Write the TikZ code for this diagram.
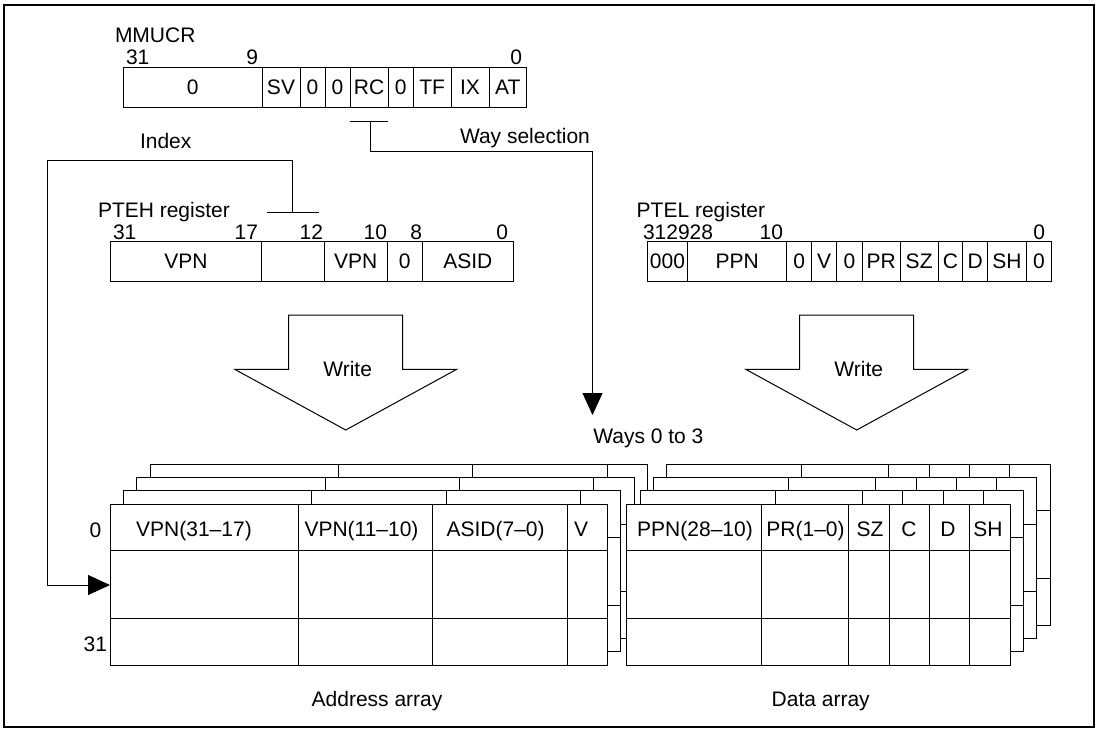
\documentclass[tikz,border=0pt]{standalone}
\usepackage{fontspec}
\setmainfont{Liberation Sans}
\usetikzlibrary{arrows.meta}

\begin{document}
\begin{tikzpicture}[
x=1pt, y=-1pt,
line width=1pt,
font=\fontsize{21}{25}\selectfont,
field/.style={draw, inner sep=0pt, outer sep=0pt, minimum height=40pt},
txt/.style={inner sep=0pt, outer sep=0pt},
tip/.style={-{Triangle[length=22pt,width=20pt]}},
layer/.style={draw, fill=white},
writearrow/.style={draw, fill=white}
]
\useasboundingbox (0,0) rectangle (1102,729);
\draw[line width=2pt] (3.5,5) rectangle (1094,727);

% MMUCR
\node[txt, anchor=base west] (mmucr) at (115,42) {MMUCR};
\foreach \l/\r/\t [count=\i] in {123.3/262/0, 262/300/SV, 300/325/0, 325/350/0, 350/388.3/RC,
  388.3/413.3/0, 413.3/451/TF, 451/489/IX, 489/526.7/AT} {
  \pgfmathsetmacro\fw{\r-\l}
  \node[field, minimum width=\fw pt] (mm\i) at ({(\l+\r)/2},87.3) {\t};
}
\foreach \x/\a/\t [count=\i] in {126/west/31, 258/east/9, 522/east/0}
  \node[txt, anchor=base \a] (mmbit\i) at (\x,64) {\t};

% PTEH
\node[txt, anchor=base west] (ptehname) at (98,217) {PTEH register};
\foreach \l/\r/\t [count=\i] in {110/261.7/VPN, 261.7/324.3/{}, 324.3/387.3/VPN,
  387.3/422.3/0, 422.3/513.3/ASID} {
  \pgfmathsetmacro\fw{\r-\l}
  \node[field, minimum width=\fw pt] (pteh\i) at ({(\l+\r)/2},261.7) {\t};
}
\foreach \x/\a/\t [count=\i] in {113/west/31, 258/east/17, 323/east/12, 387/east/10,
  422/east/8, 508/east/0}
  \node[txt, anchor=base \a] (ptehbit\i) at (\x,239.5) {\t};

% PTEL
\node[txt, anchor=base west] (ptelname) at (636.7,217) {PTEL register};
\foreach \l/\r/\t [count=\i] in {647.3/687.7/000, 687.7/786.7/PPN, 786.7/811.7/0,
  811.7/836.7/V, 836.7/862.3/0, 862.3/900/PR, 900/938.3/SZ, 938.3/962.7/C,
  962.7/987.7/D, 987.7/1026/SH, 1026/1051.7/0} {
  \pgfmathsetmacro\fw{\r-\l}
  \node[field, minimum width=\fw pt] (ptel\i) at ({(\l+\r)/2},261.7) {\t};
}
\foreach \x/\a/\t [count=\i] in {643/west/312928, 783/east/10, 1045/east/0}
  \node[txt, anchor=base \a] (ptelbit\i) at (\x,239) {\t};

% write arrows
\foreach \cx/\nm in {345.7/writeaddr, 856.7/writedata} {
  \draw[writearrow] (\cx-57,315) -- (\cx+57,315) -- (\cx+57,369.3) -- (\cx+111,369.3)
    -- (\cx,430) -- (\cx-111,369.3) -- (\cx-57,369.3) -- cycle;
  \node[txt, anchor=base] (\nm) at (\cx+2,376.7) {Write};
}

% ways 3..0, back to front
\foreach \k in {3,2,1,0} {
  \begin{scope}[shift={(13.4*\k,-13.3*\k)}]
    \draw[layer] (110,504) rectangle (607.4,665);
    \foreach \c in {298.2,432.6,567} \draw (\c,504) -- (\c,665);
    \draw (110,550.7) -- (607.4,550.7) (110,618.3) -- (607.4,618.3);
    \draw[layer] (626.7,504) rectangle (1010,665);
    \foreach \c in {761.7,848.7,889.3,929.7,969.7} \draw (\c,504) -- (\c,665);
    \draw (626.7,550.7) -- (1010,550.7) (626.7,618.3) -- (1010,618.3);
  \end{scope}
}
\foreach \x/\t [count=\i] in {194/VPN(31\textendash17), 361.5/VPN(11\textendash10),
  495.6/ASID(7\textendash0), 581/V}
  \node[txt, anchor=base] (addrhead\i) at (\x,536) {\t};
\foreach \x/\t [count=\i] in {695/PPN(28\textendash10), 805.5/PR(1\textendash0), 870/SZ,
  909/C, 948/D, 988/SH}
  \node[txt, anchor=base] (datahead\i) at (\x,536) {\t};
\node[txt, anchor=base east] (rowfirst) at (101.3,537) {0};
\node[txt, anchor=base east] (rowlast) at (107,651) {31};
\node[txt, anchor=base west] (ways) at (593.3,443) {Ways 0 to 3};
\node[txt, anchor=base west] (addrname) at (311.7,706.7) {Address array};
\node[txt, anchor=base west] (dataname) at (771.7,706.7) {Data array};

% index and way selection
\coordinate (idxcorner) at (47.3,160.7);
\coordinate (addrin) at (110,585);
\coordinate (waytip) at (592.5,415);
\node[txt, anchor=base west] (idxname) at (140,148) {Index};
\node[txt, anchor=base west] (wayname) at (460,143) {Way selection};
\draw ([xshift=-26.3pt,yshift=29.7pt]pteh2.north) -- ([xshift=26.3pt,yshift=29.7pt]pteh2.north);
\draw[tip] ([xshift=-1pt,yshift=29.7pt]pteh2.north) |- (idxcorner) |- (addrin);
\draw ([yshift=-14.4pt]mm5.south west) -- ([yshift=-14.4pt]mm5.south east);
\draw[tip] ([xshift=1.5pt,yshift=-14.4pt]mm5.south) -- ++(0,30) -| (waytip);
\end{tikzpicture}
\end{document}
